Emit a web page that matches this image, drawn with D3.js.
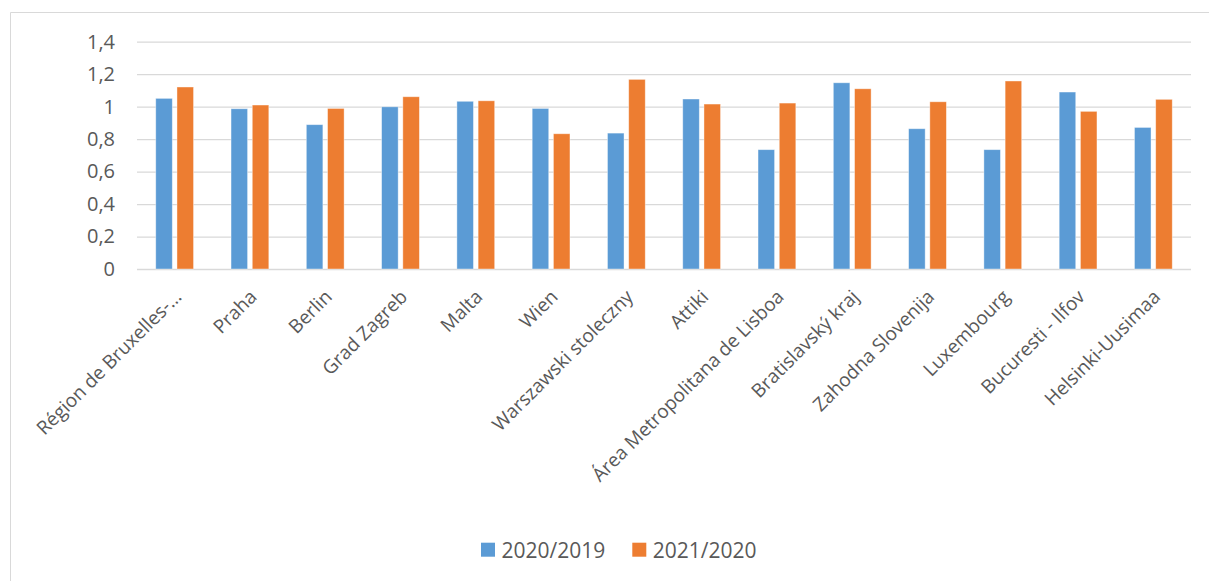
<!DOCTYPE html>
<html>
<head>
<meta charset="utf-8">
<script src="https://cdn.jsdelivr.net/npm/d3@7"></script>
<style>
  html, body { margin: 0; padding: 0; background: #fff; }
  svg { display: block; }
  text { font-family: "Open Sans", "Noto Sans", sans-serif; fill: #595959; }
</style>
</head>
<body>
<svg id="chart" width="1209" height="581"></svg>
<script>
const categories = ["Région de Bruxelles-…", "Praha", "Berlin", "Grad Zagreb", "Malta", "Wien",
  "Warszawski stoleczny", "Attiki", "Área Metropolitana de Lisboa", "Bratislavský kraj",
  "Zahodna Slovenija", "Luxembourg", "Bucuresti - Ilfov", "Helsinki-Uusimaa"];
const seriesNames = ["2020/2019", "2021/2020"];
const values2020_2019 = [1.051, 0.987, 0.889, 0.999, 1.033, 0.989, 0.837, 1.047, 0.735, 1.147, 0.864, 0.735, 1.090, 0.872];
const values2021_2020 = [1.121, 1.010, 0.989, 1.061, 1.036, 0.833, 1.168, 1.016, 1.022, 1.110, 1.030, 1.158, 0.971, 1.045];
const yTickValues = [0, 0.2, 0.4, 0.6, 0.8, 1, 1.2, 1.4];
const yTickLabels = ["0", "0,2", "0,4", "0,6", "0,8", "1", "1,2", "1,4"];
const colors = ["#5B9BD5", "#ED7D31"];

const svg = d3.select("#chart");
const plotLeft = 137, plotRight = 1191, plotTop = 41.7, plotBottom = 269;

// chart border (cropped at right and bottom)
svg.append("path")
  .attr("d", "M10.5,581 L10.5,12.5 L1209,12.5")
  .attr("fill", "none").attr("stroke", "#D9D9D9").attr("stroke-width", 1);

const y = d3.scaleLinear().domain([0, 1.4]).range([plotBottom, plotTop]);
const x0 = d3.scaleBand().domain(categories).range([plotLeft, plotRight]).paddingInner(0.498).paddingOuter(0.249);
const x1 = d3.scaleBand().domain(seriesNames).range([0, x0.bandwidth()]).paddingInner(0.22);

// gridlines + y labels
const yAxis = d3.axisLeft(y).tickValues(yTickValues)
  .tickFormat((d, i) => yTickLabels[i])
  .tickSize(-(plotRight - plotLeft)).tickPadding(22);
const gy = svg.append("g").attr("transform", `translate(${plotLeft},0)`).call(yAxis);
gy.select(".domain").remove();
gy.selectAll(".tick line").attr("stroke", "#D9D9D9").attr("stroke-width", 1.3);
gy.selectAll(".tick text").attr("font-size", "20px").attr("fill", "#595959")
  .style("font-family", "'Open Sans', sans-serif");

// bars
const data = categories.map((c, i) => ({ c, vals: [values2020_2019[i], values2021_2020[i]] }));
const groups = svg.append("g").selectAll("g").data(data).join("g")
  .attr("transform", d => `translate(${x0(d.c)},0)`);
groups.selectAll("rect").data(d => d.vals.map((v, k) => ({ k, v }))).join("rect")
  .attr("x", d => x1(seriesNames[d.k]))
  .attr("width", x1.bandwidth())
  .attr("y", d => y(d.v))
  .attr("height", d => y(0) - y(d.v))
  .attr("fill", d => colors[d.k])
  .attr("stroke", "#ffffff").attr("stroke-opacity", 0.5).attr("stroke-width", 0.8);

// x axis category labels
const xAxis = d3.axisBottom(x0).tickSize(0).tickPadding(0);
const gx = svg.append("g").attr("transform", `translate(0,${plotBottom})`).call(xAxis);
gx.select(".domain").remove();
gx.selectAll(".tick text")
  .attr("font-size", "19px").attr("fill", "#595959")
  .style("font-family", "'Open Sans', sans-serif")
  .attr("text-anchor", "end")
  .attr("dy", null).attr("y", null)
  .attr("transform", "translate(8,29) rotate(-45)");

// legend
const legend = svg.append("g");
const legX = [481, 632.3];
seriesNames.forEach((s, i) => {
  legend.append("rect").attr("x", legX[i]).attr("y", 542.7).attr("width", 14).attr("height", 14).attr("fill", colors[i]);
  legend.append("text").attr("x", legX[i] + 20.5).attr("y", 557.5).attr("font-size", "21px").text(s);
});
</script>
</body>
</html>
